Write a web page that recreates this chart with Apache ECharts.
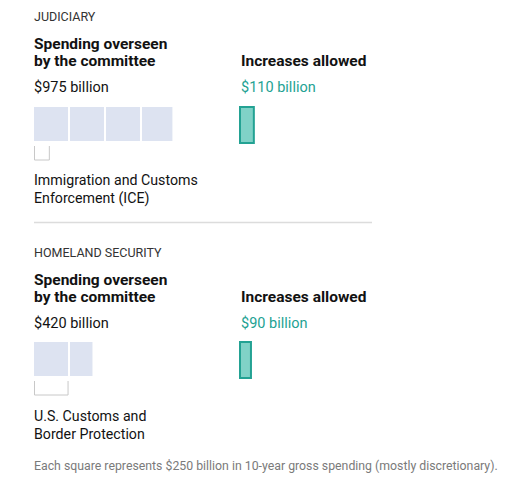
<!DOCTYPE html>
<html>
<head>
<meta charset="utf-8">
<script src="https://cdn.jsdelivr.net/npm/echarts@6/dist/echarts.min.js"></script>
<style>
  html, body { margin: 0; padding: 0; background: #fff; }
  #main { width: 506px; height: 485px; }
</style>
</head>
<body>
<div id="main"></div>
<script>
// values in billions of dollars (10-year gross spending)
var committees = ['JUDICIARY', 'HOMELAND SECURITY'];
var overseen = [975, 420];
var increases = [110, 90];
var agencies = ['Immigration and Customs\nEnforcement (ICE)', 'U.S. Customs and\nBorder Protection'];
var agencyValues = [110, 240];
var squareValue = 250;
var note = 'Each square represents $250 billion in 10-year gross spending (mostly discretionary).';

var FONT = 'Roboto, "Liberation Sans", sans-serif';
var TEAL = '#23a293';

var chart = echarts.init(document.getElementById('main'), null, { renderer: 'svg' });

// split a total into square-sized pieces
function squares(total) {
    var out = [];
    for (var s = 0; s < total; s += squareValue) {
        out.push([s, Math.min(s + squareValue, total)]);
    }
    return out;
}

var markOffset = [0, 235];
var textOffset = [0, 236];

var grids = [], xAxes = [], yAxes = [], series = [], graphics = [];

// one text line per element, y = vertical centre of the line
function txt(x, y, text, size, weight, color, lh) {
    text.split('\n').forEach(function (line, k) {
        graphics.push({
            type: 'text', x: x, y: y + k * (lh || size), silent: true,
            style: {
                text: line, fill: color, verticalAlign: 'middle', align: 'left',
                font: weight + ' ' + size + 'px ' + FONT
            }
        });
    });
}

committees.forEach(function (name, i) {
    var mo = markOffset[i], to = textOffset[i];
    // grid for squares, grid for the increase bar
    grids.push({ left: 34, top: 107 + mo, width: 144, height: 34 });
    grids.push({ left: 239, top: 107 + mo, width: 144, height: 34 });
    [0, 1].forEach(function (k) {
        xAxes.push({ type: 'value', gridIndex: i * 2 + k, min: 0, max: squareValue * 4, show: false });
        yAxes.push({ type: 'value', gridIndex: i * 2 + k, min: 0, max: 1, show: false });
    });

    series.push({
        type: 'custom',
        xAxisIndex: i * 2, yAxisIndex: i * 2,
        data: squares(overseen[i]),
        silent: true,
        renderItem: function (params, api) {
            var p0 = api.coord([api.value(0), 1]);
            var p1 = api.coord([api.value(1), 0]);
            return {
                type: 'rect',
                shape: { x: p0[0], y: p0[1], width: p1[0] - p0[0] - 2, height: p1[1] - p0[1] },
                style: { fill: '#dde3f1' }
            };
        }
    });

    series.push({
        type: 'custom',
        xAxisIndex: i * 2, yAxisIndex: i * 2,
        data: [[agencyValues[i]]],
        silent: true,
        renderItem: function (params, api) {
            var p0 = api.coord([0, 0]);
            var p1 = api.coord([api.value(0), 0]);
            var x0 = p0[0] + 0.5, x1 = p1[0] - 0.5, y = p0[1];
            return {
                type: 'polyline',
                shape: { points: [[x0, y + 5], [x0, y + 19], [x1, y + 19], [x1, y + 5]] },
                style: { stroke: '#c8c8c8', lineWidth: 1, fill: null }
            };
        }
    });

    series.push({
        type: 'custom',
        xAxisIndex: i * 2 + 1, yAxisIndex: i * 2 + 1,
        data: [[increases[i]]],
        silent: true,
        renderItem: function (params, api) {
            var p0 = api.coord([0, 1]);
            var p1 = api.coord([api.value(0), 0]);
            return {
                type: 'rect',
                shape: { x: p0[0] + 1, y: p0[1], width: p1[0] - p0[0] - 2, height: p1[1] - p0[1] + 2 },
                style: { fill: '#80d2c7', stroke: TEAL, lineWidth: 2 }
            };
        }
    });

    txt(34, 16.5 + to, name, 12.5, 'normal', '#333');
    txt(34, 43.7 + to, 'Spending overseen\nby the committee', 15.5, 'bold', '#121212', 17);
    txt(34, 87.7 + to, '$' + overseen[i] + ' billion', 14.5, 'normal', '#121212');
    txt(34, 180.3 + to, agencies[i], 14.2, 'normal', '#121212', 17.7);
    txt(241, 60.5 + to, 'Increases allowed', 15.5, 'bold', '#121212');
    txt(241, 87.5 + to, '$' + increases[i] + ' billion', 14.5, 'normal', TEAL);
});

graphics.push({
    type: 'line', silent: true,
    shape: { x1: 34, y1: 222.5, x2: 372, y2: 222.5 },
    style: { stroke: '#dcdcdc', lineWidth: 1.5 }
});
txt(34, 465.8, note, 12.3, 'normal', '#7a7a7a');

chart.setOption({
    animation: false,
    grid: grids,
    xAxis: xAxes,
    yAxis: yAxes,
    series: series,
    graphic: graphics
});
</script>
</body>
</html>
